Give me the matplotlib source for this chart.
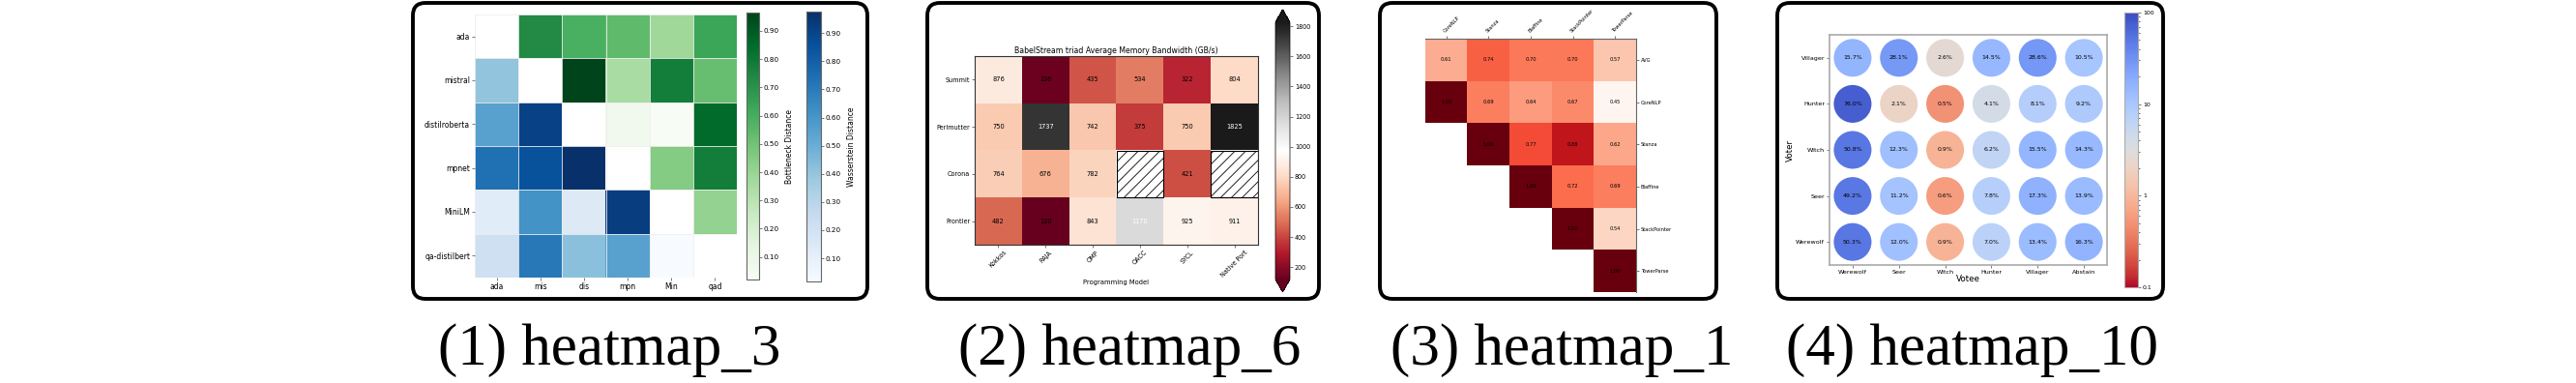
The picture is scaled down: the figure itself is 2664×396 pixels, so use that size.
import numpy as np
import matplotlib.pyplot as plt
from matplotlib.colors import LogNorm
from matplotlib.patches import FancyBboxPatch, Rectangle
from matplotlib.transforms import IdentityTransform

W, H = 2664, 396
plt.rcParams['hatch.linewidth'] = 0.6
nan = np.nan

# (1) embedding distances: upper triangle = bottleneck, lower = wasserstein
emb_long = ['ada', 'mistral', 'distilroberta', 'mpnet', 'MiniLM', 'qa-distilbert']
emb_short = ['ada', 'mis', 'dis', 'mpn', 'Min', 'qad']
dist = [
    [nan, 0.73, 0.59, 0.54, 0.38, 0.63],
    [0.40, nan, 0.965, 0.35, 0.78, 0.52],
    [0.55, 0.91, nan, 0.06, 0.02, 0.85],
    [0.74, 0.85, 0.976, nan, 0.45, 0.78],
    [0.13, 0.61, 0.14, 0.92, nan, 0.41],
    [0.22, 0.71, 0.42, 0.55, 0.018, nan],
]

# (2) BabelStream bandwidth
machines = ['Summit', 'Perlmutter', 'Corona', 'Frontier']
models = ['Kokkos', 'RAJA', 'OMP', 'OACC', 'SYCL', 'Native Port']
bandwidth = [
    [876, 136, 435, 534, 322, 804],
    [750, 1737, 742, 375, 750, 1825],
    [764, 676, 782, nan, 421, nan],
    [482, 120, 843, 1170, 925, 911],
]

# (3) parser agreement
parsers = ['CoreNLP', 'Stanza', 'Biaffine', 'StackPointer', 'TowerParse']
agree_rows = ['AVG', 'CoreNLP', 'Stanza', 'Biaffine', 'StackPointer', 'TowerParse']
agreement = [
    [0.61, 0.74, 0.70, 0.70, 0.57],
    [1.00, 0.69, 0.64, 0.67, 0.45],
    [nan, 1.00, 0.77, 0.88, 0.62],
    [nan, nan, 1.00, 0.72, 0.69],
    [nan, nan, nan, 1.00, 0.54],
    [nan, nan, nan, nan, 1.00],
]

# (4) werewolf votes (%)
voters = ['Villager', 'Hunter', 'Witch', 'Seer', 'Werewolf']
votees = ['Werewolf', 'Seer', 'Witch', 'Hunter', 'Villager', 'Abstain']
vote_rate = [
    [15.7, 28.1, 2.6, 14.5, 28.6, 10.5],
    [76.0, 2.1, 0.5, 4.1, 8.1, 9.2],
    [50.8, 12.3, 0.9, 6.2, 15.5, 14.3],
    [49.2, 11.2, 0.6, 7.8, 17.3, 13.9],
    [50.3, 12.0, 0.9, 7.0, 13.4, 16.3],
]

captions = ['(1) heatmap_3', '(2) heatmap_6', '(3) heatmap_1', '(4) heatmap_10']

fig = plt.figure(figsize=(W / 100, H / 100), dpi=100)


def place(x0, y0, x1, y1):
    # pixel box, origin top-left
    return fig.add_axes([x0 / W, 1 - y1 / H, (x1 - x0) / W, (y1 - y0) / H])


def small_ticks(ax, size):
    ax.tick_params(labelsize=size, length=2, width=0.5, pad=1.5, color='#444')


# frames and captions
boxes = [(427, 897), (959, 1364), (1427, 1775), (1838, 2237)]
cap_x = [630, 1168, 1615, 2040]
for (x0, x1), cx, cap in zip(boxes, cap_x, captions):
    fig.add_artist(FancyBboxPatch((x0, H - 309), x1 - x0, 306,
                                  boxstyle='round,pad=0,rounding_size=13',
                                  transform=IdentityTransform(), fill=False,
                                  lw=2.8, ec='black'))
    fig.text(cx / W, 1 - 377 / H, cap, ha='center', va='baseline',
             fontsize=44, family='Liberation Serif')

# ---- panel 1 ----
ax1 = place(491, 15, 762, 287)
d = np.array(dist)
upper = np.triu(np.ones(d.shape, bool), 1)
lower = np.tril(np.ones(d.shape, bool), -1)
im_g = ax1.imshow(np.ma.masked_where(~upper, d), cmap='Greens', aspect='auto')
im_b = ax1.imshow(np.ma.masked_where(~lower, d), cmap='Blues', aspect='auto')
ax1.set_xticks(range(6), emb_short)
ax1.set_yticks(range(6), emb_long)
ax1.set_xticks(np.arange(-0.5, 6), minor=True)
ax1.set_yticks(np.arange(-0.5, 6), minor=True)
ax1.grid(which='minor', color='#eeeeee', lw=0.6)
ax1.tick_params(which='minor', length=0)
small_ticks(ax1, 5.5)
for s in ax1.spines.values():
    s.set_visible(False)

cg = fig.colorbar(im_g, cax=place(772, 13, 785, 289))
cb = fig.colorbar(im_b, cax=place(834, 12, 849, 291))
for c, lab in [(cg, 'Bottleneck Distance'), (cb, 'Wasserstein Distance')]:
    c.set_ticks(np.arange(0.1, 0.95, 0.1))
    c.ax.yaxis.set_major_formatter('{x:.2f}')
    c.set_label(lab, fontsize=5.5, labelpad=4)
    c.outline.set_edgecolor('#666')
    c.outline.set_linewidth(0.8)
    small_ticks(c.ax, 5.2)

# ---- panel 2 ----
ax2 = place(1008, 58, 1301, 253)
bw = np.array(bandwidth, dtype=float)
im2 = ax2.imshow(np.ma.masked_invalid(bw), cmap='RdGy', aspect='auto')
for i in range(bw.shape[0]):
    for j in range(bw.shape[1]):
        v = bw[i, j]
        if np.isnan(v):
            ax2.add_patch(Rectangle((j - 0.5, i - 0.5), 1, 1, fill=False,
                                    hatch='///', ec='black', lw=0.8))
        else:
            ax2.text(j, i, f'{v:.0f}', ha='center', va='center', fontsize=4.8,
                     color='white' if v > 1000 else 'black')
ax2.set_xticks(range(len(models)), models, rotation=45)
ax2.set_yticks(range(len(machines)), machines)
small_ticks(ax2, 4.7)
ax2.set_title('BabelStream triad Average Memory Bandwidth (GB/s)', fontsize=5.6, pad=2)
ax2.set_xlabel('Programming Model', fontsize=4.9, labelpad=1)
for s in ax2.spines.values():
    s.set_color('#333')
    s.set_linewidth(0.8)
cb2 = fig.colorbar(im2, cax=place(1319, 10, 1334, 302), extend='both')
cb2.set_ticks(range(200, 1801, 200))
cb2.outline.set_linewidth(0.5)
small_ticks(cb2.ax, 4.7)

# ---- panel 3 ----
ax3 = place(1474, 40, 1692, 302)
ag = np.array(agreement, dtype=float)
ax3.imshow(np.ma.masked_invalid(ag), cmap='Reds', aspect='auto')
for i in range(ag.shape[0]):
    for j in range(ag.shape[1]):
        if not np.isnan(ag[i, j]):
            ax3.text(j, i, f'{ag[i, j]:.2f}', ha='center', va='center', fontsize=3.7)
ax3.xaxis.tick_top()
ax3.yaxis.tick_right()
ax3.set_xticks(range(len(parsers)), parsers, rotation=45, ha='left',
               rotation_mode='anchor')
ax3.set_yticks(range(len(agree_rows)), agree_rows)
small_ticks(ax3, 3.7)
ax3.spines['left'].set_visible(False)
ax3.spines['bottom'].set_visible(False)
for k in ['top', 'right']:
    ax3.spines[k].set_color('#666')
    ax3.spines[k].set_linewidth(0.8)

# ---- panel 4 ----
ax4 = place(1892, 36, 2179, 274)
vr = np.array(vote_rate)
xx, yy = np.meshgrid(range(len(votees)), range(len(voters)))
sc = ax4.scatter(xx.ravel(), yy.ravel(), c=vr.ravel(), s=790, cmap='coolwarm_r',
                 norm=LogNorm(0.1, 100), linewidths=0)
for i in range(vr.shape[0]):
    for j in range(vr.shape[1]):
        ax4.text(j, i, f'{vr[i, j]:.1f}%', ha='center', va='center', fontsize=4.5)
ax4.set_xlim(-0.5, 5.5)
ax4.set_ylim(4.5, -0.5)
ax4.set_xticks(range(len(votees)), votees)
ax4.set_yticks(range(len(voters)), voters)
small_ticks(ax4, 4.6)
ax4.set_xlabel('Votee', fontsize=6.3, labelpad=0)
ax4.set_ylabel('Voter', fontsize=6.3, labelpad=1)
for s in ax4.spines.values():
    s.set_color('#aaaaaa')
    s.set_linewidth(1.2)
cb4 = fig.colorbar(sc, cax=place(2197, 13, 2211, 297))
cb4.set_ticks([0.1, 1, 10, 100], labels=['0.1', '1', '10', '100'])
cb4.outline.set_edgecolor('#aaaaaa')
small_ticks(cb4.ax, 4.5)
cb4.ax.tick_params(which='minor', length=1.2, width=0.4)

fig.savefig('out.png', dpi=100)
